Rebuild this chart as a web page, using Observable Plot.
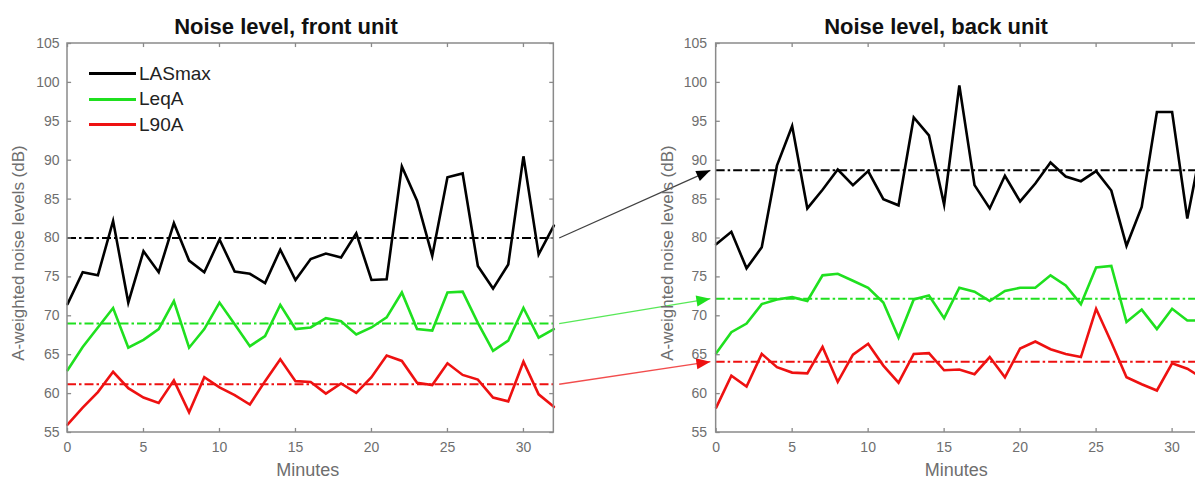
<!DOCTYPE html>
<html><head><meta charset="utf-8">
<script src="https://cdn.jsdelivr.net/npm/d3@7"></script>
<script src="https://cdn.jsdelivr.net/npm/@observablehq/plot@0.6"></script>
<style>
html,body{margin:0;padding:0;background:#fff;overflow:hidden;}
#wrap{position:relative;width:1195px;height:479px;overflow:hidden;font-family:"Liberation Sans",Arial,sans-serif;}
#wrap svg{position:absolute;left:0;top:0;max-width:none !important;}
.title{position:absolute;top:13px;font-weight:bold;font-size:22px;line-height:28px;color:#111;transform:translateX(-50%);white-space:nowrap;}
.legend{position:absolute;left:89px;top:61px;}
.legend .row{display:flex;align-items:center;height:25.5px;font-size:19px;color:#222;}
.legend .sw{width:47px;height:0;border-top:3px solid;margin-right:3px;}
</style></head>
<body><div id="wrap"></div>
<script>
// ---- data ----
const minutes = [0,1,2,3,4,5,6,7,8,9,10,11,12,13,14,15,16,17,18,19,20,21,22,23,24,25,26,27,28,29,30,31,32];
const seriesNames = ["LASmax", "LeqA", "L90A"];
const panelKeys = ["front", "back"];
const panelTitles = ["Noise level, front unit", "Noise level, back unit"];
const xTicks = [0, 5, 10, 15, 20, 25, 30];
const yTicks = [55, 60, 65, 70, 75, 80, 85, 90, 95, 100, 105];

const frontLASmax = [71.5,75.6,75.2,82.2,71.7,78.3,75.6,81.9,77.1,75.6,79.8,75.7,75.4,74.2,78.5,74.6,77.3,78.0,77.5,80.6,74.6,74.7,89.2,84.8,77.7,87.8,88.3,76.4,73.5,76.6,90.5,77.9,81.6];
const frontLeqA   = [63.0,66.0,68.5,71.0,65.9,66.9,68.3,71.9,65.9,68.3,71.7,68.9,66.1,67.4,71.4,68.3,68.5,69.7,69.3,67.6,68.5,69.8,73.0,68.3,68.1,73.0,73.1,69.1,65.5,66.8,71.0,67.2,68.3];
const frontL90A   = [56.0,58.2,60.2,62.8,60.7,59.5,58.8,61.7,57.6,62.1,60.8,59.8,58.6,61.6,64.4,61.6,61.5,60.0,61.3,60.1,62.1,64.9,64.2,61.4,61.1,63.9,62.4,61.8,59.5,59.0,64.1,59.9,58.3];

const backLASmax  = [79.2,80.8,76.1,78.8,89.3,94.4,83.8,86.2,88.8,86.8,88.6,85.0,84.2,95.5,93.2,84.3,99.6,86.8,83.8,88.0,84.7,87.0,89.7,87.9,87.3,88.6,86.1,79.0,84.0,96.2,96.2,82.5,92.5];
const backLeqA    = [65.2,67.9,69.0,71.5,72.1,72.4,71.9,75.2,75.4,74.5,73.6,71.7,67.2,72.1,72.6,69.7,73.6,73.1,71.9,73.2,73.6,73.6,75.2,73.9,71.5,76.2,76.4,69.2,70.8,68.3,70.9,69.4,69.4];
const backL90A    = [58.2,62.3,60.9,65.1,63.4,62.7,62.6,66.0,61.5,65.0,66.4,63.6,61.4,65.1,65.2,63.0,63.1,62.5,64.7,62.1,65.8,66.7,65.7,65.1,64.7,70.9,66.6,62.1,61.2,60.4,63.9,63.2,62.0];

const frontMeans = [80.0, 69.0, 61.2];
const backMeans  = [88.7, 72.2, 64.1];

// arrow annotations: from end of front panel (minute) to start of back panel (minute)
const arrowFromMinute = 32.35;
const arrowToMinute = -0.38;

// ---- layout (not data) ----
const PANEL_OFFSET = {front: 0, back: 42.68};   // x offset of each panel on the shared minute axis
const SPAN = minutes[minutes.length - 1];
const Y_MIN = yTicks[0], Y_MAX = yTicks[yTicks.length - 1];
const COLORS = ["#000000", "#1fe01f", "#ee1111"];
const GRAY = "#6e6e6e";
const FRAME = "#8a8a8a";
const FONT = "Liberation Sans, Arial, sans-serif";

const seriesData = {
  front: [frontLASmax, frontLeqA, frontL90A],
  back: [backLASmax, backLeqA, backL90A]
};
const meansData = {front: frontMeans, back: backMeans};

const rows = [];
for (const p of panelKeys) {
  seriesNames.forEach((s, si) => {
    minutes.forEach((m, i) => {
      rows.push({panel: p, series: s, minute: m, x: PANEL_OFFSET[p] + m, value: seriesData[p][si][i]});
    });
  });
}
const meanRows = [];
for (const p of panelKeys) seriesNames.forEach((s, si) => meanRows.push({panel: p, series: s, value: meansData[p][si], x1: PANEL_OFFSET[p], x2: PANEL_OFFSET[p] + SPAN}));
const arrowRows = seriesNames.map((s, si) => ({
  series: s,
  x1: PANEL_OFFSET.front + arrowFromMinute, y1: frontMeans[si],
  x2: PANEL_OFFSET.back + arrowToMinute, y2: backMeans[si]
}));
const panels = panelKeys.map((p, i) => ({key: p, offset: PANEL_OFFSET[p], title: panelTitles[i]}));
const xTickRows = panels.flatMap(p => xTicks.map(t => ({x: p.offset + t, label: String(t), offset: p.offset})));
const yTickRows = panels.flatMap(p => yTicks.map(v => ({v, offset: p.offset})));

function triangleHead(color, context) {
  const doc = (context && context.document) || document;
  const ns = "http://www.w3.org/2000/svg";
  const m = doc.createElementNS(ns, "marker");
  m.setAttribute("viewBox", "-14 -6 14 12");
  m.setAttribute("markerUnits", "userSpaceOnUse");
  m.setAttribute("markerWidth", "14");
  m.setAttribute("markerHeight", "12");
  m.setAttribute("refX", "0");
  m.setAttribute("refY", "0");
  m.setAttribute("orient", "auto");
  m.setAttribute("overflow", "visible");
  const path = doc.createElementNS(ns, "path");
  path.setAttribute("d", "M-14,-5.5L0,0L-14,5.5Z");
  path.setAttribute("fill", color);
  path.setAttribute("stroke", "none");
  m.appendChild(path);
  return m;
}

const TX = 0.27, TY = 0.52; // inner tick lengths (~4px) in data units

const chart = Plot.plot({
  width: 1210,
  height: 479,
  marginLeft: 67,
  marginRight: 8,
  marginTop: 43,
  marginBottom: 47,
  style: {fontFamily: FONT, fontSize: "14px", background: "white", overflow: "visible", maxWidth: "none"},
  x: {domain: [0, PANEL_OFFSET.back + SPAN]},
  y: {domain: [Y_MIN, Y_MAX]},
  color: {domain: seriesNames, range: COLORS},
  marks: [
    // mean lines
    Plot.ruleY(meanRows, {y: "value", x1: "x1", x2: "x2", stroke: "series", strokeWidth: 2, strokeDasharray: "9,3,2.5,3"}),
    // data lines
    Plot.line(rows, {x: "x", y: "value", z: d => d.panel + d.series, stroke: "series", strokeWidth: 2.6, strokeLinejoin: "miter", strokeMiterlimit: 6}),
    // frames
    Plot.rect(panels, {x1: d => d.offset, x2: d => d.offset + SPAN, y1: Y_MIN, y2: Y_MAX, stroke: FRAME, strokeWidth: 1.5, fill: "none"}),
    // inner ticks
    Plot.ruleX(xTickRows, {x: "x", y1: Y_MIN, y2: Y_MIN + TY, stroke: FRAME, strokeWidth: 1.3}),
    Plot.ruleX(xTickRows, {x: "x", y1: Y_MAX - TY, y2: Y_MAX, stroke: FRAME, strokeWidth: 1.3}),
    Plot.ruleY(yTickRows, {y: "v", x1: d => d.offset, x2: d => d.offset + TX, stroke: FRAME, strokeWidth: 1.3}),
    Plot.ruleY(yTickRows, {y: "v", x1: d => d.offset + SPAN - TX, x2: d => d.offset + SPAN, stroke: FRAME, strokeWidth: 1.3}),
    // arrows linking the mean levels
    Plot.link(arrowRows, {x1: "x1", y1: "y1", x2: "x2", y2: "y2", stroke: "series", strokeOpacity: 0.75, strokeWidth: 1.3, markerEnd: triangleHead}),
    // axes: x tick labels for both panels
    Plot.axisX(xTickRows.map(d => d.x), {
      tickSize: 0, tickPadding: 10, fontSize: 14, color: GRAY, label: null,
      tickFormat: d => String(Math.round(d >= PANEL_OFFSET.back - 1 ? d - PANEL_OFFSET.back : d - PANEL_OFFSET.front))
    }),
    // y tick labels (left panel via axis, right panel via text)
    Plot.axisY(yTicks, {anchor: "left", tickSize: 0, tickPadding: 8, fontSize: 14, color: GRAY, label: null}),
    Plot.text(yTickRows.filter(d => d.offset === PANEL_OFFSET.back), {x: "offset", y: "v", text: d => String(d.v), textAnchor: "end", dx: -9, fontSize: 14, fill: GRAY}),
    // axis titles
    Plot.text(panels, {x: d => d.offset + SPAN / 2, text: () => "Minutes", frameAnchor: "bottom", lineAnchor: "middle", dy: 38, dx: -3, fontSize: 18, fill: GRAY}),
    Plot.text(panels, {x: d => d.offset, y: (Y_MIN + Y_MAX) / 2, text: () => "A-weighted noise levels (dB)", rotate: -90, dx: -49, dy: 15, fontSize: 17, fill: GRAY})
  ]
});

const wrap = document.getElementById("wrap");
wrap.appendChild(chart);

// titles
const titleCenters = [286, 936];
panels.forEach((p, i) => {
  const t = document.createElement("div");
  t.className = "title";
  t.style.left = titleCenters[i] + "px";
  t.textContent = p.title;
  wrap.appendChild(t);
});

// legend (left panel)
const leg = document.createElement("div");
leg.className = "legend";
seriesNames.forEach((s, i) => {
  const row = document.createElement("div");
  row.className = "row";
  const sw = document.createElement("span");
  sw.className = "sw";
  sw.style.borderTopColor = COLORS[i];
  const lab = document.createElement("span");
  lab.textContent = s;
  row.appendChild(sw);
  row.appendChild(lab);
  leg.appendChild(row);
});
wrap.appendChild(leg);
</script>
</body></html>
